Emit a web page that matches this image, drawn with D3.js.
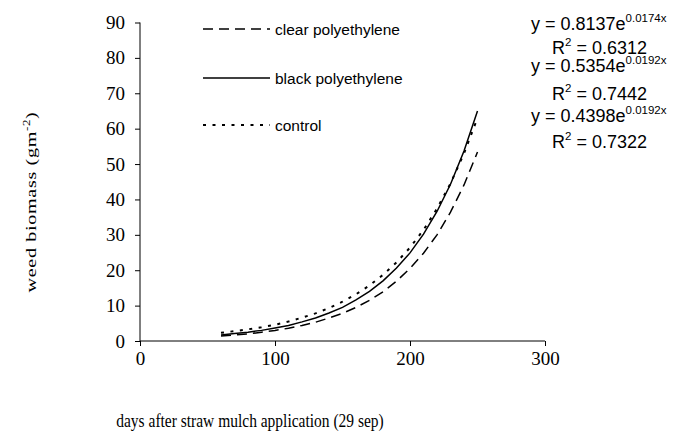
<!DOCTYPE html>
<html>
<head>
<meta charset="utf-8">
<script src="https://cdn.jsdelivr.net/npm/d3@7"></script>
<style>
body { margin: 0; background: #fff; }
.tick text { font: 19px "Liberation Serif", "Times New Roman", serif; fill: #000; }
.title { font: 15.5px "Liberation Serif", "Times New Roman", serif; fill: #000; }
.legend text { font: 15.5px "Liberation Sans", Arial, sans-serif; fill: #000; }
.eq { font: 18px "Liberation Sans", Arial, sans-serif; fill: #000; }
</style>
</head>
<body>
<div id="chart"></div>
<script>
// values (days after mulch, weed biomass)
var days = [60, 70, 80, 90, 100, 110, 120, 130, 140, 150, 160, 170, 180, 190, 200, 210, 220, 230, 240, 250];
var clearPoly = [1.4, 1.7, 2.0, 2.5, 3.0, 3.6, 4.4, 5.3, 6.5, 7.8, 9.5, 11.5, 13.9, 16.9, 20.5, 24.8, 30.0, 36.4, 44.1, 53.4];
var blackPoly = [1.7, 2.1, 2.5, 3.0, 3.7, 4.4, 5.4, 6.5, 7.9, 9.5, 11.6, 14.0, 17.0, 20.6, 24.9, 30.2, 36.6, 44.3, 53.7, 65.0];
var control = [2.3, 2.8, 3.3, 3.9, 4.6, 5.5, 6.6, 7.8, 9.3, 11.1, 13.2, 15.7, 18.7, 22.2, 26.4, 31.4, 37.4, 44.5, 53.0, 63.0];

var seriesNames = ["clear polyethylene", "black polyethylene", "control"];
var seriesData = [clearPoly, blackPoly, control];
var dashes = ["10,6", null, "3,6.5"];

var xTicks = [0, 100, 200, 300];
var yTicks = [0, 10, 20, 30, 40, 50, 60, 70, 80, 90];

var equations = [
    ["0.8137", "0.0174x", "0.6312"],
    ["0.5354", "0.0192x", "0.7442"],
    ["0.4398", "0.0192x", "0.7322"]
];

var width = 673, height = 437;
var svg = d3.select("#chart").append("svg")
    .attr("width", width)
    .attr("height", height);

var x = d3.scaleLinear().domain([0, 300]).range([140, 545]);
var y = d3.scaleLinear().domain([0, 90]).range([341, 22.5]);

svg.append("g")
    .attr("transform", "translate(0," + y(0) + ")")
    .call(d3.axisBottom(x).tickValues(xTicks).tickSize(5).tickPadding(6))
    .call(function(g) { g.select(".domain").attr("d", "M" + x(0) + ",0H" + x(300)); });

svg.append("g")
    .attr("transform", "translate(" + x(0) + ",0)")
    .call(d3.axisLeft(y).tickValues(yTicks).tickSize(5).tickPadding(10))
    .call(function(g) { g.select(".domain").attr("d", "M0," + y(0) + "V" + y(90)); });

svg.selectAll(".domain, .tick line").attr("stroke", "#000").attr("stroke-width", 1);

var line = d3.line()
    .x(function(d) { return x(d[0]); })
    .y(function(d) { return y(d[1]); });

seriesData.forEach(function(vals, i) {
    svg.append("path")
        .datum(days.map(function(d, j) { return [d, vals[j]]; }))
        .attr("d", line)
        .attr("fill", "none")
        .attr("stroke", "#000")
        .attr("stroke-width", i == 2 ? 2 : 1.5)
        .attr("stroke-dasharray", dashes[i]);
});

// legend
var legY = [29, 78, 125];
var leg = svg.append("g").attr("class", "legend");
seriesNames.forEach(function(name, i) {
    leg.append("line")
        .attr("x1", 203).attr("x2", 270)
        .attr("y1", legY[i]).attr("y2", legY[i])
        .attr("stroke", "#000")
        .attr("stroke-width", i == 2 ? 2 : 1.5)
        .attr("stroke-dasharray", dashes[i]);
    leg.append("text")
        .attr("x", 275).attr("y", legY[i] + 5.5)
        .text(name);
});

// trendline equations
var eqY = [[30, 54], [72, 100], [122, 148]];
equations.forEach(function(e, i) {
    var t = svg.append("text").attr("class", "eq")
        .attr("x", 531).attr("y", eqY[i][0]);
    t.append("tspan").text("y = " + e[0] + "e");
    t.append("tspan").attr("dy", -8).attr("font-size", "11.5px").text(e[1]);
    var r = svg.append("text").attr("class", "eq")
        .attr("x", 552).attr("y", eqY[i][1]);
    r.append("tspan").text("R");
    r.append("tspan").attr("dy", -8).attr("font-size", "11.5px").text("2");
    r.append("tspan").attr("dy", 8).text(" = " + e[2]);
});

// axis titles
svg.append("text").attr("class", "title")
    .attr("transform", "translate(250,427) scale(1,1.25)")
    .attr("text-anchor", "middle")
    .text("days after straw mulch application (29 sep)");

var yt = svg.append("text").attr("class", "title")
    .attr("transform", "translate(36,202) rotate(-90) scale(1.3,1)")
    .attr("text-anchor", "middle")
    .attr("font-size", "16px")
    .attr("letter-spacing", "0.5px");
yt.append("tspan").text("weed biomass (gm");
yt.append("tspan").attr("dy", -6).attr("font-size", "10px").text("-2");
yt.append("tspan").attr("dy", 6).text(")");
</script>
</body>
</html>
